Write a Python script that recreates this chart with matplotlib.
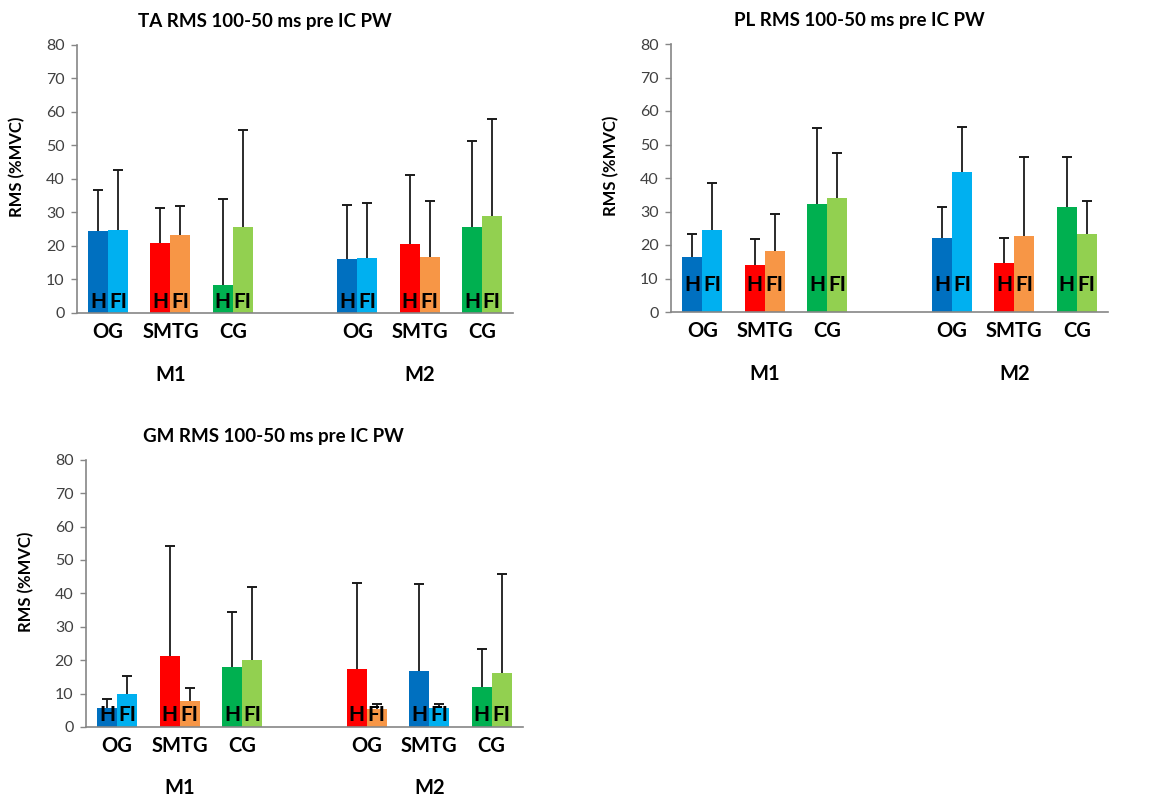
import numpy as np
import matplotlib
matplotlib.use("Agg")
import matplotlib.pyplot as plt

plt.rcParams["font.family"] = ["Lato", "DejaVu Sans"]

# Groups: OG, SMTG, CG for M1 and M2, one empty slot between M1 and M2
GROUP_NAMES = ["OG", "SMTG", "CG", "OG", "SMTG", "CG"]
GROUP_POS = np.array([0, 1, 2, 4, 5, 6])
PHASES = ["M1", "M2"]
BAR_TAGS = ["H", "FI"]

# TA means and SD (upper error) - H and FI
ta_h = [24.5, 20.8, 8.2, 16.1, 20.5, 25.7]
ta_h_sd = [12.3, 10.4, 25.8, 16.0, 20.6, 25.7]
ta_fi = [24.9, 23.3, 25.7, 16.5, 16.6, 28.9]
ta_fi_sd = [17.8, 8.7, 29.0, 16.4, 16.7, 29.1]

# PL
pl_h = [16.3, 13.9, 32.1, 22.2, 14.6, 31.3]
pl_h_sd = [7.0, 7.8, 22.9, 9.0, 7.4, 15.0]
pl_fi = [24.6, 18.3, 34.1, 41.7, 22.7, 23.4]
pl_fi_sd = [13.8, 10.9, 13.3, 13.6, 23.6, 9.7]

# GM
gm_h = [5.7, 21.1, 17.9, 17.5, 16.7, 11.9]
gm_h_sd = [2.8, 33.2, 16.6, 25.5, 26.0, 11.3]
gm_fi = [9.8, 7.7, 19.9, 5.3, 5.7, 16.3]
gm_fi_sd = [5.6, 4.0, 21.9, 1.5, 1.1, 29.6]

# colours (Excel palette)
BLUE, LBLUE = "#0070C0", "#00B0F0"
RED, ORANGE = "#FF0000", "#F79646"
GREEN, LGREEN = "#00B050", "#92D050"

default_h_cols = [BLUE, RED, GREEN, BLUE, RED, GREEN]
default_fi_cols = [LBLUE, ORANGE, LGREEN, LBLUE, ORANGE, LGREEN]
# GM M2 has OG and SMTG colours swapped
gm_h_cols = [BLUE, RED, GREEN, RED, BLUE, GREEN]
gm_fi_cols = [LBLUE, ORANGE, LGREEN, ORANGE, LBLUE, LGREEN]

panels = [
    # title, rect, H, H sd, FI, FI sd, H colours, FI colours, y of H/FI tags
    ("TA RMS 100-50 ms pre IC PW", [0.0662, 0.6088, 0.3749, 0.335],
     ta_h, ta_h_sd, ta_fi, ta_fi_sd, default_h_cols, default_fi_cols, 3.4),
    ("PL RMS 100-50 ms pre IC PW", [0.5770, 0.6100, 0.3757, 0.335],
     pl_h, pl_h_sd, pl_fi, pl_fi_sd, default_h_cols, default_fi_cols, 8.0),
    ("GM RMS 100-50 ms pre IC PW", [0.0739, 0.0913, 0.3757, 0.334],
     gm_h, gm_h_sd, gm_fi, gm_fi_sd, gm_h_cols, gm_fi_cols, 3.6),
]

BAR_W = 0.32
ERR_COL = "#1a1a1a"
AXIS_COL = "#868686"

fig = plt.figure(figsize=(11.63, 8), dpi=100)

for title, rect, h, h_sd, fi, fi_sd, h_cols, fi_cols, tag_y in panels:
    ax = fig.add_axes(rect)
    h = np.array(h)
    fi = np.array(fi)
    x_h = GROUP_POS - BAR_W / 2
    x_fi = GROUP_POS + BAR_W / 2

    ax.bar(x_h, h, width=BAR_W, color=h_cols, zorder=2)
    ax.bar(x_fi, fi, width=BAR_W, color=fi_cols, zorder=2)

    # upper-only error bars
    for xs, vals, sds in [(x_h, h, np.array(h_sd)), (x_fi, fi, np.array(fi_sd))]:
        ax.vlines(xs, vals, vals + sds, color=ERR_COL, lw=1.3, zorder=3)
        ax.plot(xs, vals + sds, ls="none", marker="_", ms=7, mew=1.4,
                color=ERR_COL, zorder=3)

    # H / FI tags inside bars
    for xa, xb in zip(x_h, x_fi):
        ax.text(xa, tag_y, BAR_TAGS[0], ha="center", va="center",
                fontsize=15, fontweight="bold", color="black", zorder=4)
        ax.text(xb, tag_y, BAR_TAGS[1], ha="center", va="center",
                fontsize=15, fontweight="bold", color="black", zorder=4)

    ax.set_xlim(-0.5, 6.5)
    ax.set_ylim(0, 80)
    ax.set_yticks(np.arange(0, 81, 10))
    ax.set_xticks([])
    ax.tick_params(axis="y", direction="out", length=4, width=1,
                   color=AXIS_COL, labelsize=11.5, labelcolor="#404040", pad=5)

    for side in ["top", "right"]:
        ax.spines[side].set_visible(False)
    for side in ["left", "bottom"]:
        ax.spines[side].set_color(AXIS_COL)
        ax.spines[side].set_linewidth(1.2)

    # group labels under the axis
    trans = ax.get_xaxis_transform()
    for pos, name in zip(GROUP_POS, GROUP_NAMES):
        ax.text(pos, -0.07, name, transform=trans, ha="center", va="center",
                fontsize=14.5, fontweight="bold")
    for pos, name in zip([1, 5], PHASES):
        ax.text(pos, -0.23, name, transform=trans, ha="center", va="center",
                fontsize=14.5, fontweight="bold")

    ax.set_ylabel("RMS (%MVC)", fontsize=12, fontweight="bold")
    ax.yaxis.set_label_coords(-0.118, 0.545)
    ax.set_title(title, fontsize=13.5, fontweight="bold", x=0.43, pad=13)

plt.savefig("out.png", dpi=100)
